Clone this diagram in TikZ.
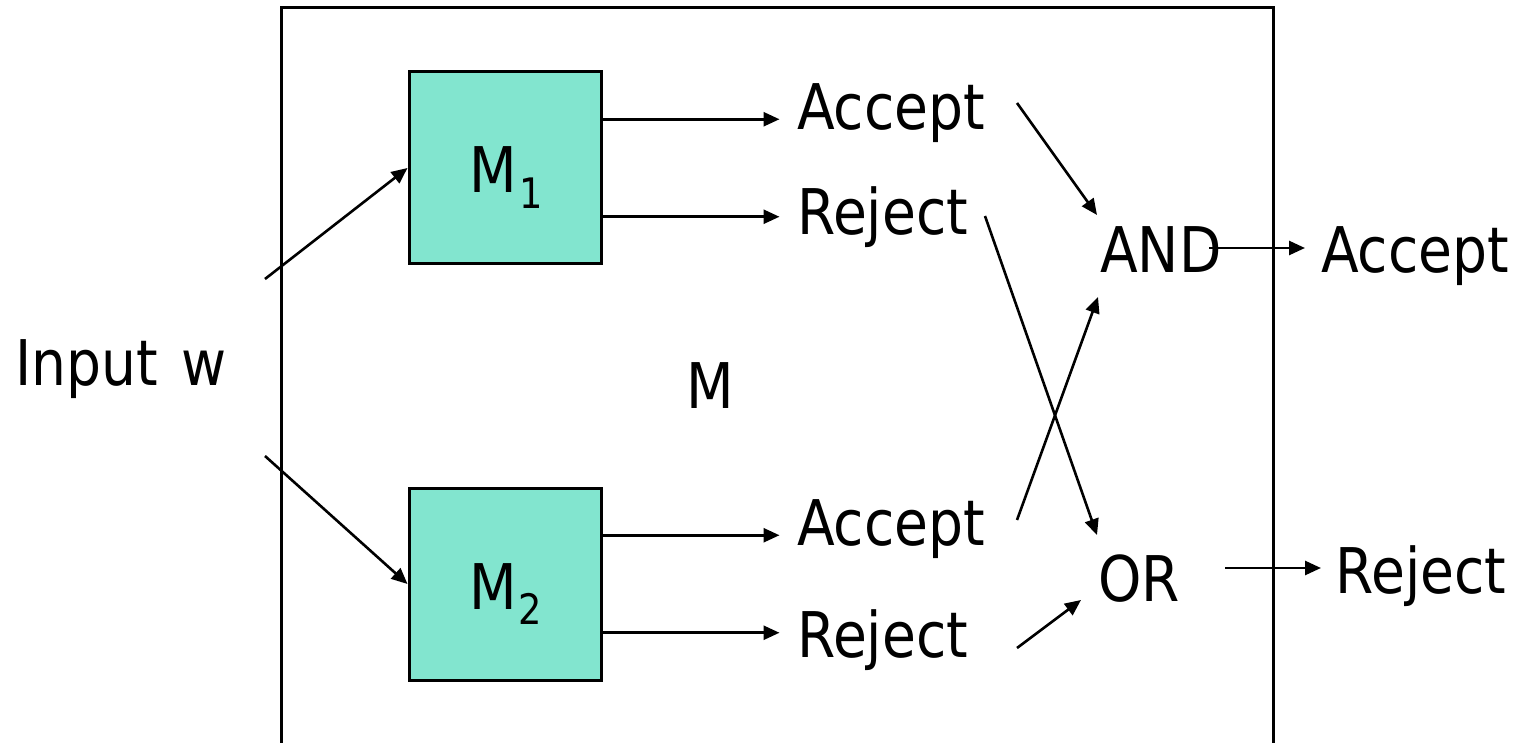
\documentclass[tikz,border=0pt]{standalone}
\usepackage{fontspec}
\setmainfont[FakeStretch=0.875]{DejaVu Sans}
\usetikzlibrary{arrows.meta,calc}
\definecolor{boxfill}{HTML}{82E5CF}
\begin{document}
\begin{tikzpicture}[x=1pt,y=-1pt,
  lbl/.style={anchor=base west,inner sep=0pt,font=\fontsize{63}{70}\selectfont},
  mbox/.style={draw,line width=3pt,fill=boxfill,minimum width=192pt,minimum height=192pt,inner sep=0pt},
  arr/.style={line width=2.6pt,-{Triangle[length=16pt,width=14pt]}},
  frame/.style={line width=3pt}]
\useasboundingbox (0,0) rectangle (1518,743);
% outer machine M
\draw[frame] (281,745) -- (281,8) -- (1273,8) -- (1273,745);
% boxes
\node[mbox] (m1) at (505,168) {};
\node[mbox] (m2) at (505,584) {};
\node[lbl] (m1l) at (469,193) {M\hspace{3pt}\raisebox{-16pt}{\fontsize{42}{46}\selectfont 1}};
\node[lbl] (m2l) at (469,609) {M\hspace{2pt}\raisebox{-15pt}{\fontsize{42}{46}\selectfont 2}};
% texts
\node[lbl] (inp) at (15,385) {Input\hspace{24pt}w};
\node[lbl] (mm) at (686,408) {M};
\node[lbl] (acc1) at (797,130) {Accept};
\node[lbl] (rej1) at (797,235) {Reject};
\node[lbl] (acc2) at (797,545) {Accept};
\node[lbl] (rej2) at (797,657) {Reject};
\node[lbl] (and) at (1100,273) {AND};
\node[lbl] (or) at (1098,601) {OR};
\node[lbl] (acc) at (1321,273) {Accept};
\node[lbl] (rej) at (1335,593) {Reject};
% connector end points
\coordinate (in1) at (265,279);
\coordinate (in2) at (265,456);
\coordinate (a1s) at (1017,103);
\coordinate (a1e) at (1097,215);
\coordinate (r1s) at (985,216);
\coordinate (r1e) at (1097,535);
\coordinate (a2s) at (1017,520);
\coordinate (a2e) at (1098,297);
\coordinate (r2s) at (1017,648);
\coordinate (r2e) at (1081,600);
\coordinate (ands) at (1209,248);
\coordinate (ande) at (1305,248);
\coordinate (ors) at (1225,568);
\coordinate (ore) at (1321,568);
% connectors
\draw[arr] (in1) -- (m1.west);
\draw[arr] (in2) -- (m2.west);
\draw[arr] ($(m1.north east)!0.25!(m1.south east)$) -- ++(177,0);
\draw[arr] ($(m1.north east)!0.75!(m1.south east)$) -- ++(177,0);
\draw[arr] ($(m2.north east)!0.25!(m2.south east)$) -- ++(177,0);
\draw[arr] ($(m2.north east)!0.75!(m2.south east)$) -- ++(177,0);
\draw[arr] (a1s) -- (a1e);
\draw[arr] (r1s) -- (r1e);
\draw[arr] (a2s) -- (a2e);
\draw[arr] (r2s) -- (r2e);
\draw[arr] (ands) -- (ande);
\draw[arr] (ors) -- (ore);
\end{tikzpicture}
\end{document}
